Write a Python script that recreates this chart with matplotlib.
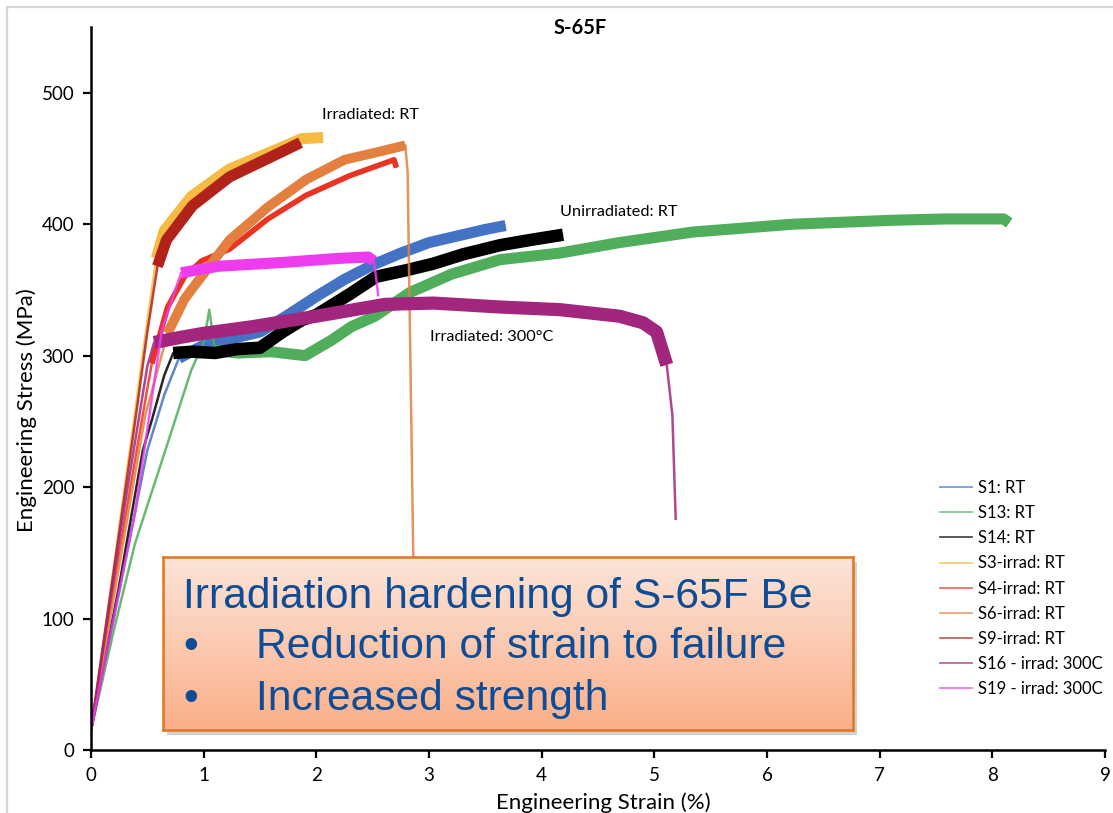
#!/usr/bin/env python3
"""
Engineering stress-strain curves for S-65F beryllium, unirradiated vs irradiated.
"""

import numpy as np
import matplotlib
matplotlib.use('Agg')
import matplotlib.pyplot as plt
from matplotlib.lines import Line2D
from matplotlib.patches import Rectangle

plt.rcParams['font.family'] = ['Lato', 'DejaVu Sans']

# ---- data (strain in %, stress in MPa) ----
labels = ['S1: RT', 'S13: RT', 'S14: RT', 'S3-irrad: RT', 'S4-irrad: RT',
          'S6-irrad: RT', 'S9-irrad: RT', 'S16 - irrad: 300C', 'S19 - irrad: 300C']

s1_strain = [0, 0.25, 0.5, 0.65, 0.78, 1.0, 1.25, 1.5, 1.75, 2.0, 2.25, 2.5, 2.75, 3.0, 3.25, 3.5, 3.68]
s1_stress = [15, 120, 228, 270, 298, 308, 313, 318, 331, 345, 358, 369, 378, 386, 391, 396, 399]

s13_strain = [0, 0.2, 0.39, 0.66, 0.89, 1.0, 1.05, 1.1, 1.3, 1.6, 1.9, 2.14, 2.31, 2.52, 2.83, 3.2,
              3.63, 4.16, 4.69, 5.34, 6.23, 7.12, 7.6, 8.1, 8.15]
s13_stress = [15, 90, 157, 228, 289, 310, 335, 304, 302, 303, 300, 312, 322, 330, 348, 362,
              373, 378, 386, 394, 400, 403, 404, 404, 401]

s14_strain = [0, 0.25, 0.46, 0.54, 0.65, 0.73, 0.9, 1.1, 1.3, 1.5, 1.7, 1.87, 2.0, 2.3, 2.53,
              2.8, 3.04, 3.3, 3.63, 3.9, 4.19]
s14_stress = [15, 125, 228, 251, 285, 302, 303, 302, 305, 306, 318, 327, 331, 347, 360,
              365, 370, 377, 384, 388, 392]

s3_strain = [0, 0.2, 0.39, 0.49, 0.58, 0.65, 0.89, 1.23, 1.57, 1.87, 2.06]
s3_stress = [15, 138, 256, 320, 374, 395, 421, 442, 454, 465, 466]

s4_strain = [0, 0.25, 0.5, 0.54, 0.68, 0.83, 0.98, 1.23, 1.57, 1.91, 2.3, 2.69, 2.71]
s4_stress = [15, 150, 275, 294, 337, 360, 372, 381, 404, 422, 437, 449, 443]

s6_strain = [0, 0.25, 0.48, 0.68, 0.83, 0.89, 1.23, 1.57, 1.91, 2.25, 2.55, 2.79, 2.81, 2.86, 2.9]
s6_stress = [15, 140, 254, 317, 343, 350, 388, 413, 434, 449, 455, 460, 440, 150, 20]

s9_strain = [0, 0.2, 0.4, 0.5, 0.59, 0.67, 0.9, 1.23, 1.57, 1.86]
s9_stress = [15, 135, 255, 318, 368, 388, 414, 436, 450, 462]

s16_strain = [0, 0.25, 0.5, 0.56, 0.8, 1.0, 1.43, 2.0, 2.61, 3.04, 3.63, 4.16, 4.69, 4.9, 5.02,
              5.11, 5.16, 5.19]
s16_stress = [15, 160, 292, 310, 314, 317, 322, 330, 339, 340, 337, 335, 330, 325, 318,
              293, 255, 175]

s19_strain = [0, 0.2, 0.39, 0.63, 0.8, 1.13, 1.72, 2.2, 2.46, 2.51, 2.53, 2.55]
s19_stress = [15, 100, 180, 320, 363, 368, 371, 374, 375, 372, 360, 345]

strains = [s1_strain, s13_strain, s14_strain, s3_strain, s4_strain, s6_strain, s9_strain, s16_strain, s19_strain]
stresses = [s1_stress, s13_stress, s14_stress, s3_stress, s4_stress, s6_stress, s9_stress, s16_stress, s19_stress]

# ---- styling ----
colors = ['#4472c4', '#4fad5b', '#000000', '#f5bb42', '#ea3323',
          '#e3803f', '#b0221a', '#a2257e', '#ee3bee']
# (first index, last index, width) of the noisy plastic band drawn thick
bands = [(4, 16, 8.0), (7, 24, 8.0), (5, 20, 9.0), (4, 10, 8.0), (3, 12, 4.0),
         (3, 11, 7.0), (4, 9, 8.0), (3, 15, 9.5), (4, 9, 8.0)]

W, H = 1113, 813
fig = plt.figure(figsize=(W / 100, H / 100), dpi=100)


def fx(px):
    return px / W


def fy(py):
    return 1 - py / H


ax = fig.add_axes([fx(91), fy(750), fx(1105) - fx(91), fy(27) - fy(750)])

for x, y, c, (i0, i1, lw) in zip(strains, stresses, colors, bands):
    ax.plot(x, y, color=c, lw=1.8, solid_capstyle='butt', alpha=0.85)
    ax.plot(x[i0:i1 + 1], y[i0:i1 + 1], color=c, lw=lw, solid_capstyle='butt',
            solid_joinstyle='round')

ax.set_xlim(0, 9)
ax.set_ylim(0, 550)
ax.set_xticks(np.arange(0, 10, 1))
ax.set_yticks(np.arange(0, 600, 100))
for side in ['top', 'right']:
    ax.spines[side].set_visible(False)
for side in ['left', 'bottom']:
    ax.spines[side].set_linewidth(1.8)
ax.tick_params(axis='both', direction='out', length=6, width=1.6, labelsize=13.5,
               colors='black', pad=6)
ax.patch.set_alpha(0)

# curve group annotations
ax.text(2.05, 483, 'Irradiated: RT', fontsize=11.7, va='center', ha='left')
ax.text(4.16, 409.5, 'Unirradiated: RT', fontsize=11.7, va='center', ha='left')
ax.text(3.01, 314, 'Irradiated: 300°C', fontsize=11.7, va='center', ha='left')

# legend
handles = [Line2D([0], [0], color=c, lw=1.3, alpha=0.7) for c in colors]
fig.legend(handles, labels, loc='upper left', bbox_to_anchor=(fx(940), fy(480)),
           frameon=False, fontsize=12, handlelength=1.9, handletextpad=0.35,
           labelspacing=0.55, borderpad=0, borderaxespad=0)

# titles and axis labels
fig.text(fx(580), fy(28), 'S-65F', fontsize=14.5, fontweight='bold', ha='center', va='center')
fig.text(fx(603), fy(803), 'Engineering Strain (%)', fontsize=16, ha='center', va='center')
fig.text(fx(27), fy(410), 'Engineering Stress (MPa)', fontsize=16, ha='center', va='center',
         rotation=90)

# outer frame
fig.add_artist(Rectangle((fx(7), -0.1), 1.2, fy(7) + 0.1, transform=fig.transFigure,
                         fill=False, edgecolor='#d6d6d6', lw=1.6, zorder=0))

# callout box with gradient fill and soft shadow
bx0, by0, bx1, by1 = 163, 557, 853, 730
fig.add_artist(Rectangle((fx(bx0 + 4), fy(by1 + 5)), fx(bx1) - fx(bx0), fy(by0) - fy(by1),
                         transform=fig.transFigure, facecolor='#7a7a7a', alpha=0.35,
                         edgecolor='none', zorder=4))
bax = fig.add_axes([fx(bx0), fy(by1), fx(bx1) - fx(bx0), fy(by0) - fy(by1)], zorder=5)
top = np.array([253, 229, 218]) / 255
bot = np.array([250, 175, 136]) / 255
t = np.linspace(0, 1, 200)[:, None, None]
grad = top * (1 - t) + bot * t
bax.imshow(grad, extent=[0, 1, 0, 1], aspect='auto', origin='upper')
bax.set_xlim(0, 1)
bax.set_ylim(0, 1)
bax.set_xticks([])
bax.set_yticks([])
for sp in bax.spines.values():
    sp.set_edgecolor('#e0761e')
    sp.set_linewidth(1.8)

blue = '#0d4d98'
bfont = ['Liberation Sans', 'DejaVu Sans']
bax.text(0.029, 0.705, 'Irradiation hardening of S-65F Be', fontsize=30.7, color=blue,
         family=bfont, va='baseline', ha='left')
for yb, line in [(0.416, 'Reduction of strain to failure'), (0.116, 'Increased strength')]:
    bax.text(0.029, yb, '•', fontsize=30.7, color=blue, family=bfont, va='baseline', ha='left')
    bax.text(0.135, yb, line, fontsize=30.7, color=blue, family=bfont, va='baseline', ha='left')

fig.savefig('out.png', dpi=100)
